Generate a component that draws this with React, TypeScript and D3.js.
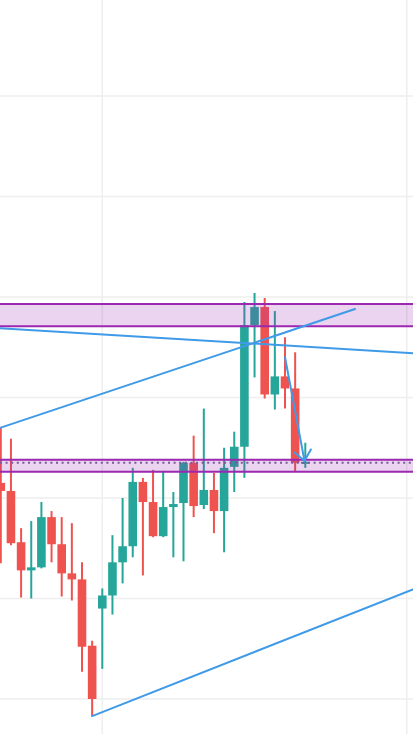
import React from "react";
import * as d3 from "d3";

const W = 413;
const H = 734;

// candle index 0..30
const opens = [1.2615, 1.2607, 1.2556, 1.2528, 1.2531, 1.2581, 1.2554, 1.2525, 1.2519, 1.2453, 1.2490, 1.2503, 1.2536, 1.2552, 1.2616, 1.2596, 1.2562, 1.2591, 1.2595, 1.2635, 1.2593, 1.2608, 1.2587, 1.2631, 1.2651, 1.2772, 1.2790, 1.2703, 1.2721, 1.2709, 1.2634];
const highs = [1.2670, 1.2659, 1.2570, 1.2577, 1.2596, 1.2587, 1.2581, 1.2575, 1.2536, 1.2458, 1.2510, 1.2563, 1.2600, 1.2630, 1.2620, 1.2628, 1.2627, 1.2606, 1.2636, 1.2662, 1.2689, 1.2625, 1.2650, 1.2666, 1.2795, 1.2804, 1.2799, 1.2786, 1.2760, 1.2745, 1.2655];
const lows = [1.2535, 1.2553, 1.2501, 1.2500, 1.2530, 1.2536, 1.2502, 1.2498, 1.2427, 1.2383, 1.2430, 1.2484, 1.2515, 1.2541, 1.2523, 1.2561, 1.2561, 1.2541, 1.2537, 1.2581, 1.2589, 1.2565, 1.2546, 1.2606, 1.2620, 1.2720, 1.2699, 1.2688, 1.2689, 1.2626, 1.2630];
const closes = [1.2607, 1.2555, 1.2528, 1.2531, 1.2581, 1.2554, 1.2525, 1.2519, 1.2452, 1.2400, 1.2503, 1.2536, 1.2552, 1.2616, 1.2596, 1.2562, 1.2591, 1.2594, 1.2635, 1.2592, 1.2608, 1.2587, 1.2630, 1.2651, 1.2772, 1.2790, 1.2703, 1.2721, 1.2709, 1.2635, 1.2636];

const priceTicks = [1.24, 1.25, 1.26, 1.27, 1.28, 1.29, 1.30];
const timeTicks = [10, 40];

// zones: [top, bottom]
const zoneTops = [1.2793, 1.2638];
const zoneBottoms = [1.2771, 1.2626];
const dottedPrice = 1.2635;

// trend lines: [i1, p1, i2, p2]
const lineA = [-0.1, 1.2769, 40.6, 1.2744];
const lineB = [0, 1.2670, 34.9, 1.2788];
const lineC = [9, 1.2383, 40.6, 1.2509];
const arrow = [28, 1.2740, 29.92, 1.2637];

export default function App() {
  const x = d3.scaleLinear().domain([0, 30]).range([0.8, 305.3]);
  const y = d3.scaleLinear().domain([1.24, 1.30]).range([699, 96]);
  const bw = 8.6;
  const up = "#26a69a";
  const down = "#ef5350";
  const blue = "#3f9ae8";
  const purple = "#9c27b0";

  const seg = (l: number[]) => ({ x1: x(l[0]), y1: y(l[1]), x2: x(l[2]), y2: y(l[3]) });

  const a = seg(arrow);
  const ang = Math.atan2(a.y1 - a.y2, a.x1 - a.x2);
  const al = 13;
  const spread = (40 * Math.PI) / 180;
  const arms = [ang - spread, ang + spread].map((t) => ({
    x: a.x2 + al * Math.cos(t),
    y: a.y2 + al * Math.sin(t),
  }));

  return (
    <svg width={W} height={H} style={{ position: "absolute", left: 0, top: 0, background: "#fff" }}>
      <rect x={0} y={0} width={W} height={H} fill="#ffffff" />
      {priceTicks.map((p) => (
        <line key={"h" + p} x1={0} x2={W} y1={y(p)} y2={y(p)} stroke="#eeeeee" strokeWidth={1.5} />
      ))}
      {timeTicks.map((t) => (
        <line key={"v" + t} x1={x(t)} x2={x(t)} y1={0} y2={H} stroke="#eeeeee" strokeWidth={1.5} />
      ))}
      {opens.map((o, i) => {
        const c = closes[i];
        const col = c >= o ? up : down;
        const top = y(Math.max(o, c));
        const bot = y(Math.min(o, c));
        return (
          <g key={"c" + i}>
            <line x1={x(i)} x2={x(i)} y1={y(highs[i])} y2={y(lows[i])} stroke={col} strokeWidth={2} />
            <rect x={x(i) - bw / 2} y={top} width={bw} height={Math.max(2, bot - top)} fill={col} />
          </g>
        );
      })}
      {zoneTops.map((t, i) => (
        <g key={"z" + i}>
          <rect x={0} width={W} y={y(t)} height={y(zoneBottoms[i]) - y(t)} fill={purple} fillOpacity={0.2} />
          <line x1={0} x2={W} y1={y(t)} y2={y(t)} stroke={purple} strokeWidth={2} />
          <line x1={0} x2={W} y1={y(zoneBottoms[i])} y2={y(zoneBottoms[i])} stroke={purple} strokeWidth={2} />
        </g>
      ))}
      <line x1={0} x2={W} y1={y(dottedPrice)} y2={y(dottedPrice)} stroke="#7a5a9a" strokeWidth={2} strokeDasharray="2,3.6" />
      {[lineA, lineB, lineC].map((l, i) => {
        const s = seg(l);
        return <line key={"l" + i} {...s} stroke={blue} strokeWidth={2} strokeLinecap="round" />;
      })}
      <line {...a} stroke={blue} strokeWidth={2} strokeLinecap="round" />
      {arms.map((p, i) => (
        <line key={"arm" + i} x1={a.x2} y1={a.y2} x2={p.x} y2={p.y} stroke={blue} strokeWidth={2} strokeLinecap="round" />
      ))}
    </svg>
  );
}
